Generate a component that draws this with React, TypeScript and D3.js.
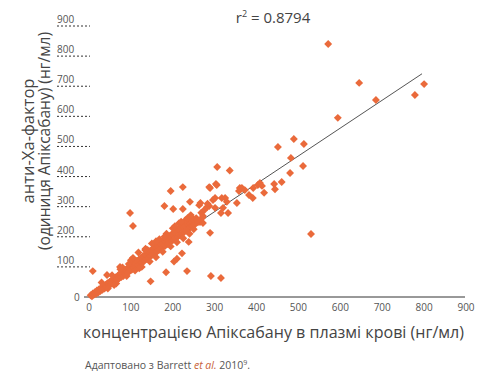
import React from "react";
import * as d3 from "d3";

// Tick values
const xTicks = [0, 100, 200, 300, 400, 500, 600, 700, 800, 900];
const yTicks = [0, 100, 200, 300, 400, 500, 600, 700, 800, 900];

// Dense band of observations (apixaban ng/mL, anti-Xa ng/mL)
const denseBand: [number, number][] = [
  [4,6],[7,2],[9,12],[12,8],[14,16],[17,11],[19,22],[22,15],[24,26],[27,20],[29,30],[32,24],[34,36],[37,28],
  [39,40],[42,33],[44,46],[47,38],[49,50],[52,42],[54,56],[57,47],[59,60],[62,52],[64,66],[67,56],[69,70],
  [72,62],[74,78],[77,66],[79,80],[82,70],[84,88],[87,76],[89,92],[92,80],[94,98],[97,86],[99,104],[102,90],
  [104,108],[107,96],[109,114],[112,100],[114,120],[117,106],[119,124],[122,110],[124,130],[127,114],[129,136],
  [132,120],[134,140],[137,126],[139,146],[142,130],[144,152],[147,136],[149,156],[152,140],[154,162],[157,146],
  [159,168],[162,150],[164,172],[167,156],[169,178],[172,160],[174,182],[177,166],[179,188],[182,170],[184,194],
  [187,176],[189,198],[192,180],[194,204],[197,186],[199,210],[202,190],[204,214],[207,196],[209,220],[212,200],
  [214,224],[217,206],[219,230],[222,210],[224,234],[227,216],[229,238],[232,220],[234,244],[237,226],[239,248],
  [242,232],[244,254],[247,236],[249,258],[252,240],[256,262],[260,248]
];

// Wider spread around the band
const bandSpread: [number, number][] = [
  [30,48],[45,28],[55,72],[65,45],[80,98],[90,70],[100,122],[110,88],[118,148],[126,100],[135,160],[145,118],
  [150,178],[160,132],[168,192],[176,150],[185,210],[195,168],[200,228],[210,182],[215,245],[225,195],[230,255],
  [240,210],[120,95],[140,156],[160,185],[180,200],[205,235],[220,250],[235,262],[250,225],[105,130],[95,110],
  [75,92],[60,40]
];

// Cluster along the upper part of the line
const midCluster: [number, number][] = [
  [265,249],[272,246],[270,262],[258,256],[272,269],[282,299],[287,302],[296,322],[301,296],[315,279],[332,279],
  [325,329],[301,329],[317,329],[329,316],[320,296],[353,312],[263,305],[241,316],[243,272],[224,292],[201,292],
  [180,302],[268,280],[276,290],[283,310],[266,312],[289,362],[303,375],[360,362]
];

// Scattered outliers
const outliers: [number, number][] = [
  [9,86],[43,73],[74,100],[98,279],[105,236],[134,156],[147,52],[184,82],[203,118],[210,127],[222,145],[238,183],
  [234,86],[291,70],[315,63],[289,213],[530,209],[195,352],[224,365],[287,365],[305,372],[306,432],[336,420],
  [365,362],[358,352],[372,355],[382,339],[391,329],[392,362],[403,372],[408,379],[413,369],[418,346],[442,375],
  [444,358],[460,382],[480,412],[482,462],[511,435],[451,498],[489,525],[513,508],[594,595],[571,840],[645,711],
  [685,654],[778,671],[800,707]
];

// Linear regression line (r² = 0.8794)
const fitX = [10, 795];
const fitSlope = 0.925;
const fitIntercept = 6;

export default function App() {
  const x = d3.scaleLinear().domain([0, 900]).range([89, 466]);
  const y = d3.scaleLinear().domain([0, 900]).range([297, 26]);
  const points = [...denseBand, ...bandSpread, ...midCluster, ...outliers];
  const diamond = d3.symbol().type(d3.symbolDiamond2).size(40)();
  const orange = "#EA6A3B";
  const font = "'Open Sans', 'Noto Sans', sans-serif";
  const line = d3.line<number>().x((d) => x(d)).y((d) => y(fitSlope * d + fitIntercept));

  return (
    <svg width={491} height={381} style={{ position: "absolute", left: 0, top: 0, background: "#fff" }} fontFamily={font}>
      {/* y dotted tick lines and labels */}
      {yTicks.map((t) =>
        t === 0 ? (
          <text key={t} x={74} y={y(t) + 4} fontSize={10} fill="#555">0</text>
        ) : (
          <g key={t}>
            <line x1={57} x2={90} y1={y(t)} y2={y(t)} stroke="#333" strokeWidth={1} strokeDasharray="2,2" />
            <text x={57} y={y(t) - 3} fontSize={10} fill="#555">{t}</text>
          </g>
        )
      )}
      {/* x axis */}
      <line x1={x(0) - 5} x2={x(900) - 1} y1={y(0)} y2={y(0)} stroke="#333" strokeWidth={1} />
      {xTicks.map((t) => (
        <text key={t} x={x(t)} y={311} fontSize={10} fill="#555" textAnchor="middle">{t}</text>
      ))}
      {/* regression line (under the points) */}
      <path d={line(fitX) || ""} fill="none" stroke="#555" strokeWidth={1} />
      {/* points */}
      {points.map((p, i) => (
        <path key={i} d={diamond} transform={`translate(${x(p[0])},${y(p[1])})`} fill={orange} />
      ))}
      {/* r² */}
      <text x={273} y={23} fontSize={15} fill="#444" textAnchor="middle">
        r<tspan fontSize={9} dy={-6}>2</tspan><tspan dy={6}> = 0.8794</tspan>
      </text>
      {/* y title */}
      <text transform="translate(34,141) rotate(-90)" fontSize={16} fill="#444" textAnchor="middle" textLength={125} lengthAdjust="spacingAndGlyphs">анти-Ха-фактор</text>
      <text transform="translate(50,141) rotate(-90)" fontSize={16} fill="#444" textAnchor="middle" textLength={218} lengthAdjust="spacingAndGlyphs">(одиниця Апіксабану) (нг/мл)</text>
      {/* x title */}
      <text x={83} y={338} fontSize={17} fill="#444" textLength={381} lengthAdjust="spacingAndGlyphs">концентрацією Апіксабану в плазмі крові (нг/мл)</text>
      {/* footnote */}
      <text x={85} y={369} fontSize={10.5} fill="#555">
        Адаптовано з Barrett <tspan fontStyle="italic" fill="#C8643A">et al.</tspan> 2010<tspan fontSize={7} dy={-4}>9</tspan><tspan dy={4}>.</tspan>
      </text>
    </svg>
  );
}
